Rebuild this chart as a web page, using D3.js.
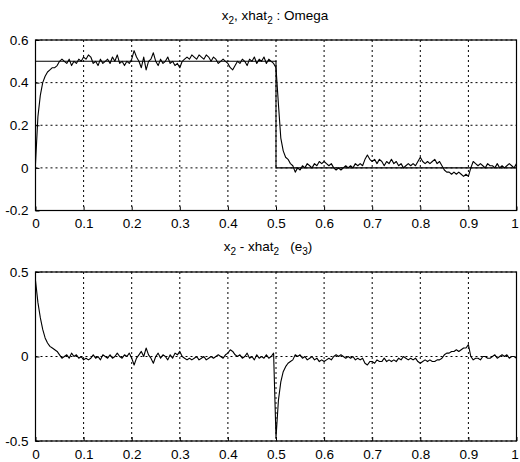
<!DOCTYPE html>
<html>
<head>
<meta charset="utf-8">
<script src="https://cdn.jsdelivr.net/npm/d3@7"></script>
<style>
  html, body { margin: 0; padding: 0; background: #fff; }
  svg { display: block; }
  text { font-family: "Liberation Sans", Arial, Helvetica, sans-serif; fill: #000; }
</style>
</head>
<body>
<svg id="chart" width="520" height="462"></svg>
<script>
// ---------- DATA ----------
const tStep = 0.005;            // sample spacing of the traces (t from 0 to 1)
const xTicks = [0, 0.1, 0.2, 0.3, 0.4, 0.5, 0.6, 0.7, 0.8, 0.9, 1];
const xTickLabels = ["0", "0.1", "0.2", "0.3", "0.4", "0.5", "0.6", "0.7", "0.8", "0.9", "1"];
const topYTicks = [-0.2, 0, 0.2, 0.4, 0.6];
const topYTickLabels = ["-0.2", "0", "0.2", "0.4", "0.6"];
const botYTicks = [-0.5, 0, 0.5];
const botYTickLabels = ["-0.5", "0", "0.5"];

// true state x2 (step)
const x2Times  = [0, 0.5, 0.5, 1];
const x2Values = [0.5, 0.5, 0, 0];

// estimate xhat2, t = 0 .. 1 step 0.005
const xhat2Values = [
  0.02, 0.24, 0.34, 0.40, 0.43, 0.45, 0.46, 0.47, 0.47, 0.48,
  0.50, 0.51, 0.50, 0.49, 0.51, 0.48, 0.50, 0.49, 0.51, 0.50,
  0.52, 0.51, 0.53, 0.52, 0.49, 0.50, 0.48, 0.51, 0.49, 0.50,
  0.51, 0.49, 0.52, 0.50, 0.53, 0.49, 0.50, 0.48, 0.50, 0.49,
  0.51, 0.55, 0.52, 0.50, 0.47, 0.52, 0.46, 0.50, 0.51, 0.54,
  0.50, 0.48, 0.51, 0.49, 0.50, 0.52, 0.49, 0.50, 0.48, 0.49,
  0.47, 0.50, 0.51, 0.52, 0.51, 0.53, 0.52, 0.51, 0.53, 0.52,
  0.51, 0.53, 0.52, 0.50, 0.52, 0.51, 0.49, 0.50, 0.51, 0.50,
  0.49, 0.47, 0.46, 0.48, 0.50, 0.49, 0.51, 0.50, 0.48, 0.51,
  0.50, 0.52, 0.49, 0.51, 0.50, 0.52, 0.49, 0.51, 0.50, 0.49,
  0.47, 0.30, 0.14, 0.08, 0.05, 0.04, 0.02, 0.01, -0.02, 0.00,
  -0.01, 0.01, 0.00, 0.02, 0.01, 0.00, 0.02, 0.01, 0.03, 0.02,
  0.03, 0.02, 0.01, 0.02, 0.00, -0.01, 0.00, -0.01, 0.00, 0.01,
  0.00, 0.01, 0.00, 0.02, 0.01, 0.02, 0.01, 0.04, 0.06, 0.04,
  0.03, 0.04, 0.02, 0.04, 0.03, 0.01, 0.03, 0.02, 0.04, 0.02,
  0.03, 0.01, 0.02, 0.00, 0.01, 0.02, 0.01, 0.02, 0.01, 0.03,
  0.05, 0.03, 0.02, 0.03, 0.02, 0.03, 0.04, 0.02, 0.03, 0.01,
  -0.01, -0.02, -0.02, -0.03, -0.02, -0.03, -0.02, -0.03, -0.04, -0.03,
  -0.04, 0.00, 0.03, 0.02, 0.01, 0.02, 0.01, 0.00, 0.02, 0.01,
  0.01, 0.00, 0.02, 0.00, 0.01, 0.00, 0.01, 0.02, 0.01, 0.00,
  0.02
];

// estimation error e3 = x2 - xhat2, t = 0 .. 1 step 0.005
const errorValues = [
  0.45, 0.32, 0.23, 0.16, 0.11, 0.08, 0.06, 0.05, 0.04, 0.03,
  0.01, -0.01, 0.00, 0.01, -0.01, 0.02, 0.00, 0.01, -0.01, 0.00,
  -0.02, -0.01, -0.02, -0.01, 0.01, -0.01, 0.00, -0.02, 0.01, 0.00,
  -0.01, 0.01, -0.01, 0.00, 0.02, 0.00, -0.01, 0.01, 0.00, 0.02,
  -0.01, -0.05, -0.01, 0.01, 0.03, 0.00, 0.05, 0.01, -0.01, -0.04,
  0.00, 0.02, -0.01, 0.01, 0.00, -0.02, 0.01, -0.01, 0.02, 0.01,
  0.03, 0.00, -0.01, -0.02, -0.01, -0.02, -0.01, 0.00, -0.02, -0.01,
  0.00, -0.02, -0.01, 0.00, -0.01, 0.00, 0.01, 0.00, -0.01, 0.01,
  0.02, 0.04, 0.03, 0.01, 0.00, 0.01, -0.01, 0.00, 0.02, -0.01,
  0.00, -0.02, 0.01, -0.01, 0.00, -0.01, 0.01, -0.01, 0.00, 0.02,
  -0.48, -0.26, -0.15, -0.09, -0.06, -0.04, -0.03, -0.02, 0.01, 0.00,
  0.01, -0.01, 0.00, -0.02, -0.01, 0.00, -0.02, -0.01, -0.03, -0.02,
  -0.03, -0.02, -0.01, -0.02, 0.00, 0.01, 0.00, 0.01, 0.00, -0.01,
  0.00, -0.01, 0.00, -0.02, -0.01, -0.02, -0.01, -0.04, -0.05, -0.03,
  -0.03, -0.04, -0.02, -0.03, -0.03, -0.01, -0.03, -0.02, -0.03, -0.02,
  -0.03, -0.01, -0.02, 0.00, -0.01, -0.02, -0.01, -0.02, -0.01, -0.03,
  -0.04, -0.03, -0.02, -0.03, -0.02, -0.03, -0.03, -0.02, -0.02, -0.01,
  0.01, 0.02, 0.02, 0.03, 0.03, 0.04, 0.03, 0.04, 0.05, 0.05,
  0.07, 0.00, -0.02, -0.01, -0.01, -0.02, 0.00, 0.00, -0.01, -0.01,
  0.00, 0.01, -0.01, 0.00, 0.01, 0.00, 0.01, -0.01, 0.00, 0.00,
  -0.01
];

// ---------- DRAW ----------
const svg = d3.select("#chart");
const x = d3.scaleLinear().domain([0, 1]).range([35.5, 516.5]);

function panel(opts) {
  const y = d3.scaleLinear().domain(opts.yDomain).range([opts.bottom, opts.top]);
  const g = svg.append("g");
  const x0 = x.range()[0], x1 = x.range()[1];

  // grid (dotted)
  g.selectAll(".gx").data(xTicks).join("line")
    .attr("x1", d => x(d)).attr("x2", d => x(d))
    .attr("y1", opts.top).attr("y2", opts.bottom)
    .attr("stroke", "#000").attr("stroke-width", 1).attr("stroke-dasharray", "2,3");
  g.selectAll(".gy").data(opts.yTicks).join("line")
    .attr("y1", d => y(d)).attr("y2", d => y(d))
    .attr("x1", x0).attr("x2", x1)
    .attr("stroke", "#000").attr("stroke-width", 1).attr("stroke-dasharray", "2,3");

  // traces
  const line = d3.line().x(d => x(d[0])).y(d => y(d[1]));
  opts.series.forEach(s => {
    g.append("path").datum(s.points)
      .attr("fill", "none").attr("stroke", "#000").attr("stroke-width", 1.1)
      .attr("stroke-linejoin", "round").attr("d", line);
  });

  // frame
  g.append("rect").attr("x", x0).attr("y", opts.top)
    .attr("width", x1 - x0).attr("height", opts.bottom - opts.top)
    .attr("fill", "none").attr("stroke", "#000").attr("stroke-width", 1.2);

  // axes (labels + inward ticks)
  const xAxis = d3.axisBottom(x).tickValues(xTicks)
    .tickFormat((d, i) => xTickLabels[i]).tickSizeInner(-4).tickSizeOuter(0).tickPadding(8);
  const ax = g.append("g").attr("transform", `translate(0,${opts.bottom})`).call(xAxis);
  ax.select(".domain").remove();
  ax.selectAll("text").attr("font-size", 13.5).attr("font-family", "Liberation Sans, Arial, sans-serif")
    .attr("dx", (d, i) => i === xTicks.length - 1 ? -2 : 0);

  const yAxis = d3.axisLeft(y).tickValues(opts.yTicks)
    .tickFormat((d, i) => opts.yLabels[i]).tickSizeInner(-4).tickSizeOuter(0).tickPadding(7);
  const ay = g.append("g").attr("transform", `translate(${x0},0)`).call(yAxis);
  ay.select(".domain").remove();
  ay.selectAll("text").attr("font-size", 13.5).attr("font-family", "Liberation Sans, Arial, sans-serif");

  // title with subscripts
  const t = g.append("text").attr("x", opts.titleX).attr("y", opts.titleY)
    .attr("text-anchor", "middle").attr("font-size", 13.5)
    .style("white-space", "pre");
  opts.title.forEach(part => {
    const ts = t.append("tspan").text(part.text);
    if (part.sub) ts.attr("font-size", 10).attr("dy", 4);
    else if (part.after) ts.attr("dy", -4);
  });
}

const toPoints = vals => vals.map((v, i) => [i * tStep, v]);

panel({
  top: 40, bottom: 210.5, yDomain: [-0.2, 0.6],
  yTicks: topYTicks, yLabels: topYTickLabels,
  series: [
    { points: x2Times.map((t, i) => [t, x2Values[i]]) },
    { points: toPoints(xhat2Values) }
  ],
  titleX: 275, titleY: 20,
  title: [
    { text: "x" }, { text: "2", sub: true }, { text: ", xhat", after: true },
    { text: "2", sub: true }, { text: " : Omega", after: true }
  ]
});

panel({
  top: 272, bottom: 441, yDomain: [-0.5, 0.5],
  yTicks: botYTicks, yLabels: botYTickLabels,
  series: [ { points: toPoints(errorValues) } ],
  titleX: 268, titleY: 251,
  title: [
    { text: "x" }, { text: "2", sub: true }, { text: " - xhat", after: true },
    { text: "2", sub: true }, { text: "\u00a0\u00a0\u00a0(e", after: true },
    { text: "3", sub: true }, { text: ")", after: true }
  ]
});
</script>
</body>
</html>
